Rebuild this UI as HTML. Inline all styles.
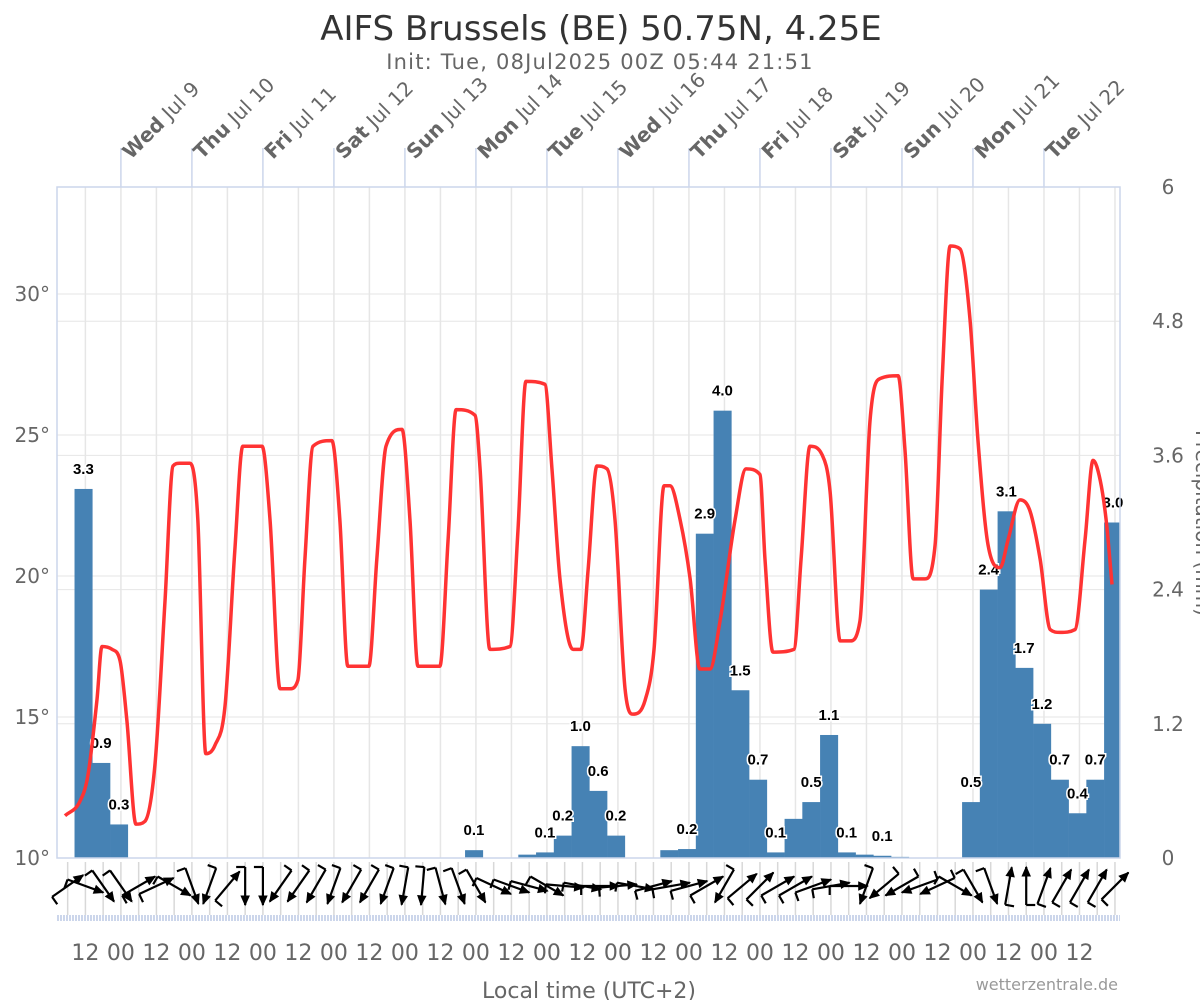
<!DOCTYPE html>
<html><head><meta charset="utf-8"><style>
html,body{margin:0;padding:0;background:#fff;}
svg text{font-family:"Liberation Sans","DejaVu Sans",sans-serif;}
</style></head><body>
<svg id="chart" width="1200" height="1000" viewBox="0 0 1200 1000" xmlns="http://www.w3.org/2000/svg">
<defs><clipPath id="pc"><rect x="57" y="187" width="1063" height="672"/></clipPath></defs>
<text x="601" y="40" text-anchor="middle" font-size="34" fill="#333" style="font-family:'DejaVu Sans',sans-serif">AIFS Brussels (BE) 50.75N, 4.25E</text>
<text x="600" y="69" text-anchor="middle" font-size="21" letter-spacing="1.2" fill="#666" style="font-family:'DejaVu Sans',sans-serif">Init: Tue, 08Jul2025 00Z 05:44 21:51</text>
<g id="grid"></g>
<g id="bars" clip-path="url(#pc)"></g>
<g id="labels"></g>
<g id="temp"></g>
<g id="wind"></g>
<g id="axes"></g>
<text x="589" y="998" text-anchor="middle" font-size="22" fill="#666" style="font-family:'DejaVu Sans',sans-serif">Local time (UTC+2)</text>
<text x="1118" y="990" text-anchor="end" font-size="16" fill="#999" style="font-family:'DejaVu Sans',sans-serif">wetterzentrale.de</text>
<text transform="translate(1196,523) rotate(90)" text-anchor="middle" font-size="20" fill="#666" style="font-family:'DejaVu Sans',sans-serif">Precipitation (mm)</text>
</svg>
<script>
const dayLabels=["Wed","Thu","Fri","Sat","Sun","Mon","Tue","Wed","Thu","Fri","Sat","Sun","Mon","Tue"];
const dayDates=["Jul 9","Jul 10","Jul 11","Jul 12","Jul 13","Jul 14","Jul 15","Jul 16","Jul 17","Jul 18","Jul 19","Jul 20","Jul 21","Jul 22"];
const tempTicks=[10,15,20,25,30];
const precTicks=[0,1.2,2.4,3.6,4.8,6];
const tempHours=[5.1,10.1,12.8,15.9,17.6,21.0,23.7,26.0,29.1,32.1,35.5,38.9,41.6,43.9,47.3,50.0,52.7,55.8,59.2,62.5,65.2,71.7,74.4,77.8,81.1,83.8,86.2,88.9,95.3,98.0,100.7,107.8,110.5,113.6,119.0,121.7,124.4,131.8,134.6,137.3,143.7,145.4,148.7,155.5,158.2,160.9,167.3,169.7,172.4,176.8,179.5,181.9,184.9,188.3,191.0,194.4,197.1,201.2,204.2,207.6,209.6,213.0,216.4,219.7,223.1,226.5,231.6,235.3,240.0,241.7,244.4,251.5,253.9,256.9,261.0,263.7,267.1,270.5,273.8,277.2,280.6,286.7,289.0,291.8,295.8,299.2,301.6,304.3,307.6,311.0,313.7,317.1,321.2,323.9,327.9,331.3,334.7,338.1,341.4,346.5,349.9,352.6,355.0,357.0,359.0];
const tempValues=[11.5,12.0,12.9,15.6,17.5,17.4,17.0,14.9,11.2,11.3,13.3,19.1,23.9,24.0,24.0,22.0,13.7,14.0,15.4,20.9,24.6,24.6,22.0,16.0,16.0,16.3,20.6,24.6,24.8,22.0,16.8,16.8,20.6,24.6,25.2,22.0,16.8,16.8,21.3,25.9,25.7,23.8,17.4,17.5,21.6,26.9,26.8,23.8,19.9,17.4,17.4,20.2,23.9,23.8,22.0,16.0,15.1,15.6,17.4,23.2,23.2,22.0,19.9,16.7,16.7,18.4,22.0,23.8,23.6,20.6,17.3,17.4,20.6,24.6,24.3,23.0,17.7,17.7,18.4,25.5,27.0,27.1,24.5,19.9,19.9,21.1,27.0,31.7,31.6,29.1,24.8,21.1,20.3,21.3,22.7,22.3,20.6,18.1,18.0,18.1,21.3,24.1,23.4,22.0,19.7];
const barHours=[9,15,21,141,159,165,171,177,183,189,207,213,219,225,231,237,243,249,255,261,267,273,279,285,309,315,321,327,333,339,345,351,357];
const barValues=[3.3,0.85,0.3,0.07,0.03,0.05,0.2,1.0,0.6,0.2,0.07,0.08,2.9,4.0,1.5,0.7,0.05,0.35,0.5,1.1,0.05,0.03,0.02,0.01,0.5,2.4,3.1,1.7,1.2,0.7,0.4,0.7,3.0];
const barLabels=["3.3","0.9","0.3","0.1","","0.1","0.2","1.0","0.6","0.2","","0.2","2.9","4.0","1.5","0.7","0.1","","0.5","1.1","0.1","","0.1","","0.5","2.4","3.1","1.7","1.2","0.7","0.4","0.7","3.0"];
const windHours=[6,12,18,24,30,36,42,48,54,60,66,72,78,84,90,96,102,108,114,120,126,132,138,144,150,156,162,168,174,180,186,192,198,204,210,216,222,228,234,240,246,252,258,264,270,276,282,288,294,300,306,312,318,324,330,336,342,348,354,360];
const windDirs=[55,110,145,145,60,65,120,160,200,40,180,180,215,215,210,200,210,210,200,190,185,165,160,150,115,110,105,120,95,100,90,85,100,75,80,75,60,210,50,45,60,60,70,80,90,200,230,240,250,245,120,150,160,10,0,20,30,30,30,45];

const L=57,R=1120,T=187,B=858;
const hMin=2.4,hMax=361.7;
const xS=h=>L+(h-hMin)/(hMax-hMin)*(R-L);
const yT=t=>B-(t-10)*28.2;
const yP=p=>B-p/6*(B-T);
const NS="http://www.w3.org/2000/svg";
function mk(tag,attrs,parent,txt){const e=document.createElementNS(NS,tag);for(const k in attrs)e.setAttribute(k,attrs[k]);if(txt!==undefined)e.textContent=txt;parent.appendChild(e);return e;}
const grid=document.getElementById('grid'),axes=document.getElementById('axes');
precTicks.forEach(p=>{const l=mk('line',{x1:L,x2:R,y1:yP(p),y2:yP(p),stroke:'#e6e6e6','stroke-width':1},grid);});
tempTicks.forEach(t=>{const l=mk('line',{x1:L,x2:R,y1:yT(t),y2:yT(t),stroke:'#e6e6e6','stroke-width':1},grid);});
for(let h=12;h<hMax;h+=12){const x=xS(h);const l=mk('line',{x1:x,x2:x,y1:T,y2:B,stroke:'#e6e6e6','stroke-width':1.5},grid);
 if(x<R-25){const tl=mk('text',{x:x,y:960,'text-anchor':'middle','font-size':22,fill:'#666',style:"font-family:'DejaVu Sans',sans-serif"},axes,(h%24===0)?'00':'12');}}
for(let h=6;h<hMax;h+=6){const x=xS(h);const l=mk('line',{x1:x,x2:x,y1:862,y2:915,stroke:'#d8d8d8','stroke-width':1.5},grid);}
const fr=mk('rect',{x:L,y:T,width:R-L,height:B-T,fill:'none',stroke:'#ccd6eb','stroke-width':1.5},axes);
const strip=mk('line',{x1:L,x2:R,y1:918,y2:918,stroke:'#ccd6eb','stroke-width':6,'stroke-dasharray':'2 1'},axes);
dayLabels.forEach((d,i)=>{const x=xS(24*(i+1));
 const tk=mk('line',{x1:x,x2:x,y1:148,y2:T,stroke:'#ccd6eb','stroke-width':1.5},axes);
 const t=mk('text',{transform:`translate(${x+10},${160}) rotate(-45)`,'font-size':20,fill:'#666',style:"font-family:'DejaVu Sans',sans-serif"},axes);
 
 mk('tspan',{'font-weight':'bold'},t,d);mk('tspan',{},t,' '+dayDates[i]);});
tempTicks.forEach(v=>{const t=mk('text',{x:50,y:yT(v)+7,'text-anchor':'end','font-size':20,fill:'#666',style:"font-family:'DejaVu Sans',sans-serif"},axes,v+'°');});
precTicks.forEach(v=>{const t=mk('text',{x:1168,y:yP(v)+7,'text-anchor':'middle','font-size':20,fill:'#666',style:"font-family:'DejaVu Sans',sans-serif"},axes,v===0?'0':(v===6?'6':v.toFixed(1)));});
const bars=document.getElementById('bars'),labs=document.getElementById('labels');const bw=6/(hMax-hMin)*(R-L);
barHours.forEach((h,i)=>{const x=xS(h)-2,y=yP(barValues[i]);
 const r=mk('rect',{x:x,y:y,width:bw+0.3,height:B-y,fill:'#4682b4'},bars);
 if(barLabels[i]){const t=mk('text',{x:x+bw/2,y:y-15,'text-anchor':'middle','font-size':15,'font-weight':'bold',fill:'#000',stroke:'#fff','stroke-width':3,'paint-order':'stroke'},labs,barLabels[i]);}});
// monotone cubic (Fritsch-Carlson)
const px=tempHours.map(xS),py=tempValues.map(yT);const n=px.length;
const dl=[];for(let i=0;i<n-1;i++)dl.push((py[i+1]-py[i])/(px[i+1]-px[i]));
const m=[];for(let i=0;i<n;i++){if(i===0)m.push(dl[0]);else if(i===n-1)m.push(dl[n-2]);else m.push(dl[i-1]*dl[i]<=0?0:(dl[i-1]+dl[i])/2);}
for(let i=0;i<n-1;i++){if(dl[i]===0){m[i]=0;m[i+1]=0;continue;}const a=m[i]/dl[i],b=m[i+1]/dl[i];const s=a*a+b*b;if(s>9){const t=3/Math.sqrt(s);m[i]=t*a*dl[i];m[i+1]=t*b*dl[i];}}
let d=`M${px[0]},${py[0]}`;for(let i=0;i<n-1;i++){const h=(px[i+1]-px[i])/3;d+=` C${px[i]+h},${py[i]+m[i]*h} ${px[i+1]-h},${py[i+1]-m[i+1]*h} ${px[i+1]},${py[i+1]}`;}
const tp=mk('path',{d:d,fill:'none',stroke:'#ff3333','stroke-width':3.5},document.getElementById('temp'));
const wind=document.getElementById('wind');
windHours.forEach((h,i)=>{const cx=xS(h),cy=886,len=38,a=windDirs[i]*Math.PI/180;
 const dx=Math.sin(a)*len/2,dy=-Math.cos(a)*len/2;const x1=cx-dx,y1=cy-dy,x2=cx+dx,y2=cy+dy;
 const g=mk('g',{stroke:'#000','stroke-width':2.2,fill:'none'},wind);
 mk('line',{x1:x1,y1:y1,x2:x2,y2:y2},g);
 const ux=dx/(len/2),uy=dy/(len/2);const hx=x2-ux*9,hy=y2-uy*9;
 mk('polygon',{points:`${x2},${y2} ${hx-uy*4},${hy+ux*4} ${hx+uy*4},${hy-ux*4}`,fill:'#000','stroke-width':1},g);
 mk('line',{x1:x1,y1:y1,x2:x1-uy*9,y2:y1+ux*9},g);});
</script>
</body></html>
